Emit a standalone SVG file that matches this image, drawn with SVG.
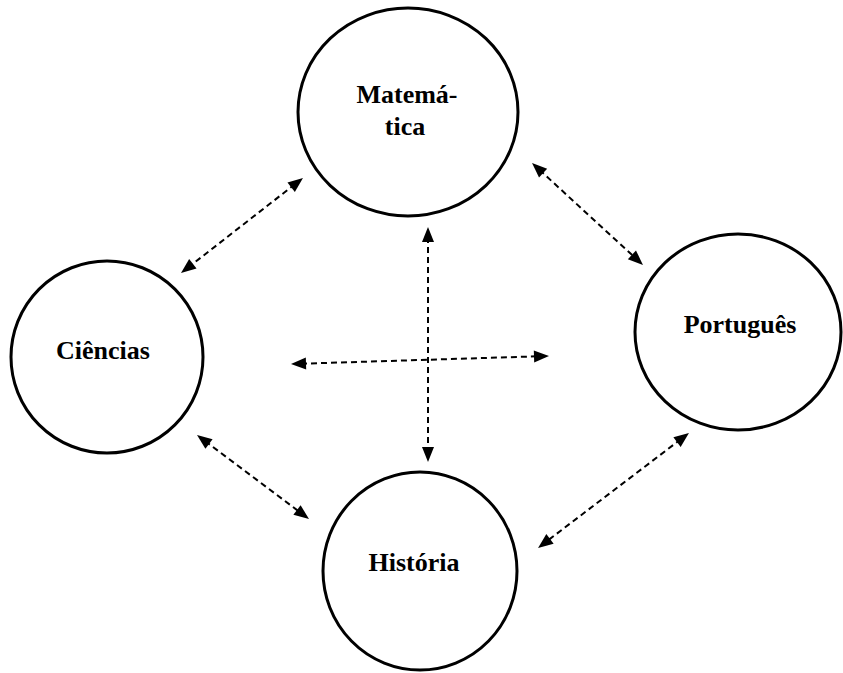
<svg xmlns="http://www.w3.org/2000/svg" width="843" height="673" viewBox="0 0 843 673">
<style>
.node{fill:#fff;stroke:#000;stroke-width:3}
.lbl{font-family:"Liberation Serif","Times New Roman",serif;font-weight:bold;font-size:26px;fill:#000;text-anchor:middle}
.conn{stroke:#000;stroke-width:2;stroke-dasharray:6 4;fill:none;marker-start:url(#ah);marker-end:url(#ah)}
</style>
<defs>
<marker id="ah" markerUnits="userSpaceOnUse" markerWidth="16" markerHeight="14" refX="5" refY="6" orient="auto-start-reverse" overflow="visible">
<path d="M0,0 L15,6 L0,12 z" fill="#000"/>
</marker>
</defs>
<rect width="843" height="673" fill="#fff"/>
<g id="matematica">
<ellipse class="node" cx="408" cy="112" rx="110" ry="104"/>
<text class="lbl" x="407" y="103">Matemá-</text>
<text class="lbl" x="405" y="135">tica</text>
</g>
<g id="ciencias">
<ellipse class="node" cx="107" cy="357" rx="96" ry="96"/>
<text class="lbl" x="103" y="359">Ciências</text>
</g>
<g id="portugues">
<ellipse class="node" cx="738" cy="332" rx="103" ry="98"/>
<text class="lbl" x="740" y="333">Português</text>
</g>
<g id="historia">
<ellipse class="node" cx="420" cy="571" rx="97" ry="99"/>
<text class="lbl" x="414" y="571">História</text>
</g>
<g id="connectors">
<line class="conn" x1="295.1" y1="184.1" x2="188.9" y2="266.9"/>
<line class="conn" x1="539.4" y1="169.8" x2="635.6" y2="258.2"/>
<line class="conn" x1="301" y1="363.7" x2="539" y2="356.3"/>
<line class="conn" x1="428" y1="237" x2="428" y2="452"/>
<line class="conn" x1="205" y1="441" x2="301" y2="513"/>
<line class="conn" x1="681" y1="439.1" x2="546" y2="541.9"/>
</g>
</svg>
